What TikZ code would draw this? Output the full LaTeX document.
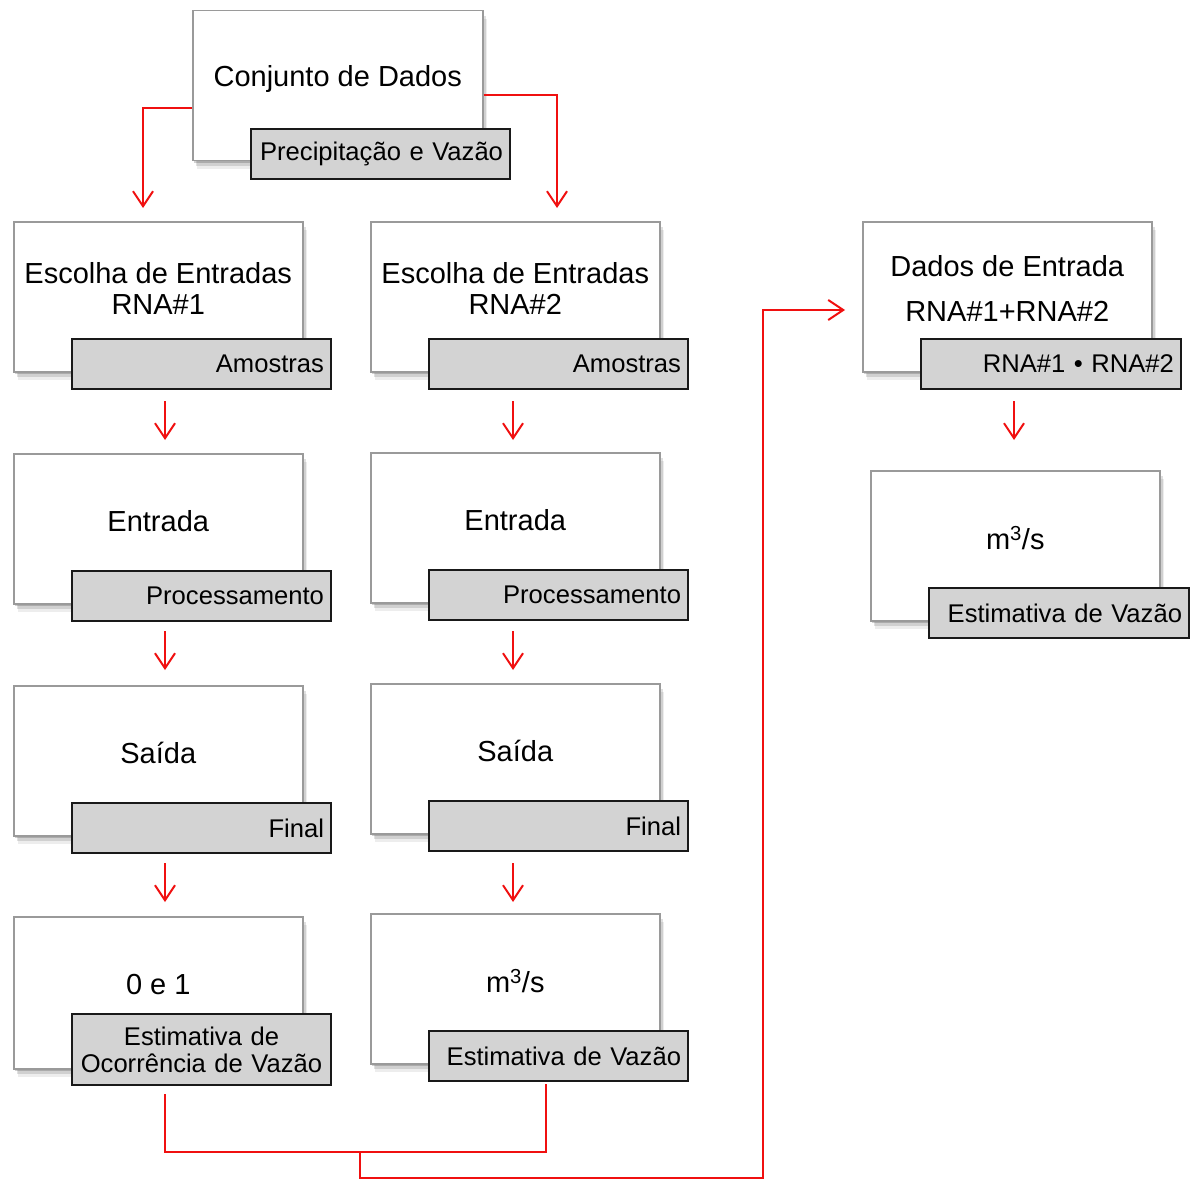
\documentclass[tikz,border=0pt]{standalone}
\usepackage{fontspec}
\setmainfont{Liberation Sans}
\usetikzlibrary{arrows.meta,shadows}
\definecolor{lgray}{HTML}{D3D3D3}
\definecolor{boxedge}{HTML}{9A9A9A}
\definecolor{rred}{HTML}{F01010}
\begin{document}
\begin{tikzpicture}[x=1pt,y=-1pt,
  wbox/.style={draw=boxedge, line width=1.5pt, fill=white, anchor=north west,
    minimum width=289pt, minimum height=150pt, inner sep=0pt,
    drop shadow={shadow xshift=1.5pt, shadow yshift=-2.5pt, fill=black, opacity=0.18},
    drop shadow={shadow xshift=3pt, shadow yshift=-5pt, fill=black, opacity=0.12},
    drop shadow={shadow xshift=4pt, shadow yshift=-8pt, fill=black, opacity=0.07}},
  maintext/.style={font=\fontsize{29}{31}\selectfont, align=center, inner sep=0pt},
  lbox/.style={draw=black!90, line width=2pt, fill=lgray, anchor=north west,
    minimum height=50pt, inner xsep=7pt, inner ysep=0pt, text width=245pt,
    font=\fontsize{25.6}{27}\selectfont, align=right},
  rline/.style={draw=rred, line width=2pt},
  arr/.style={rline, -{Straight Barb[length=15pt,width=20pt]}}
]
\useasboundingbox (0,0) rectangle (1192,1180);

% top
\node[wbox, minimum width=290pt] (a0) at (192,10) {};
\node[maintext] (ta0) at ([yshift=7pt]a0.center) {Conjunto de Dados};
\node[lbox] (la0) at (250,128) {Precipitação e Vazão};

% column 1
\node[wbox] (a1) at (13,221) {};
\node[maintext] (ta1) at ([yshift=8pt]a1.center) {Escolha de Entradas\\RNA\#1};
\node[lbox] (la1) at (71,338) {Amostras};
\node[wbox] (a2) at (13,453) {};
\node[maintext] (ta2) at ([yshift=8pt]a2.center) {Entrada};
\node[lbox] (la2) at (71,570) {Processamento};
\node[wbox] (a3) at (13,685) {};
\node[maintext] (ta3) at ([yshift=8pt]a3.center) {Saída};
\node[lbox] (la3) at (71,802) {Final};
\node[wbox, minimum height=152pt] (a4) at (13,916) {};
\node[maintext] (ta4) at ([yshift=8pt]a4.center) {0 e 1};
\node[lbox, minimum height=71pt, align=center] (la4) at (71,1013) {Estimativa de\\Ocorrência de Vazão};

% column 2
\node[wbox] (b1) at (370,221) {};
\node[maintext] (tb1) at ([yshift=8pt]b1.center) {Escolha de Entradas\\RNA\#2};
\node[lbox] (lb1) at (428,338) {Amostras};
\node[wbox] (b2) at (370,452) {};
\node[maintext] (tb2) at ([yshift=8pt]b2.center) {Entrada};
\node[lbox] (lb2) at (428,569) {Processamento};
\node[wbox] (b3) at (370,683) {};
\node[maintext] (tb3) at ([yshift=8pt]b3.center) {Saída};
\node[lbox] (lb3) at (428,800) {Final};
\node[wbox] (b4) at (370,913) {};
\node[maintext] (tb4) at ([yshift=8pt]b4.center) {m\textsuperscript{3}/s};
\node[lbox] (lb4) at (428,1030) {Estimativa de Vazão};

% column 3
\node[wbox] (c1) at (862,221) {};
\node[maintext] (tc1) at ([yshift=8pt]c1.center) {Dados de Entrada\\[14pt]RNA\#1+RNA\#2};
\node[lbox, text width=246pt] (lc1) at (920,338) {RNA\#1 • RNA\#2};
\node[wbox] (c2) at (870,470) {};
\node[maintext] (tc2) at ([yshift=8pt]c2.center) {m\textsuperscript{3}/s};
\node[lbox, text width=246pt] (lc2) at (928,587) {Estimativa de Vazão};

% helper coordinates
\coordinate (xa) at (165,0);
\coordinate (xb) at (513,0);
\coordinate (xc) at (1014,0);
\coordinate (tl) at (143,108);
\coordinate (tr) at (557,95);
\coordinate (j1) at (165,1152);
\coordinate (j2) at (546,1152);
\coordinate (j3) at (360,1152);
\coordinate (j4) at (360,1178);
\coordinate (j5) at (763,1178);
\coordinate (j6) at (763,310);

% top connectors
\draw[arr, shorten >=13pt] (a0.west |- tl) -- (tl) -- (tl |- a1.north);
\draw[arr, shorten >=13pt] (a0.east |- tr) -- (tr) -- (tr |- b1.north);

% column arrows
\draw[arr, shorten <=11pt, shorten >=13pt] (la1.south -| xa) -- (a2.north -| xa);
\draw[arr, shorten <=9pt, shorten >=15pt] (la2.south -| xa) -- (a3.north -| xa);
\draw[arr, shorten <=9pt, shorten >=14pt] (la3.south -| xa) -- (a4.north -| xa);
\draw[arr, shorten <=11pt, shorten >=12pt] (lb1.south -| xb) -- (b2.north -| xb);
\draw[arr, shorten <=10pt, shorten >=13pt] (lb2.south -| xb) -- (b3.north -| xb);
\draw[arr, shorten <=11pt, shorten >=11pt] (lb3.south -| xb) -- (b4.north -| xb);
\draw[arr, shorten <=11pt, shorten >=30pt] (lc1.south -| xc) -- (c2.north -| xc);

% bottom connectors
\draw[rline, shorten <=8pt, shorten >=2pt] (la4.south -| j1) -- (j1) -- (j2) -- (lb4.south -| j2);
\draw[arr, shorten >=17pt] (j3) -- (j4) -- (j5) -- (j6) -- (c1.west |- j6);
\end{tikzpicture}
\end{document}
